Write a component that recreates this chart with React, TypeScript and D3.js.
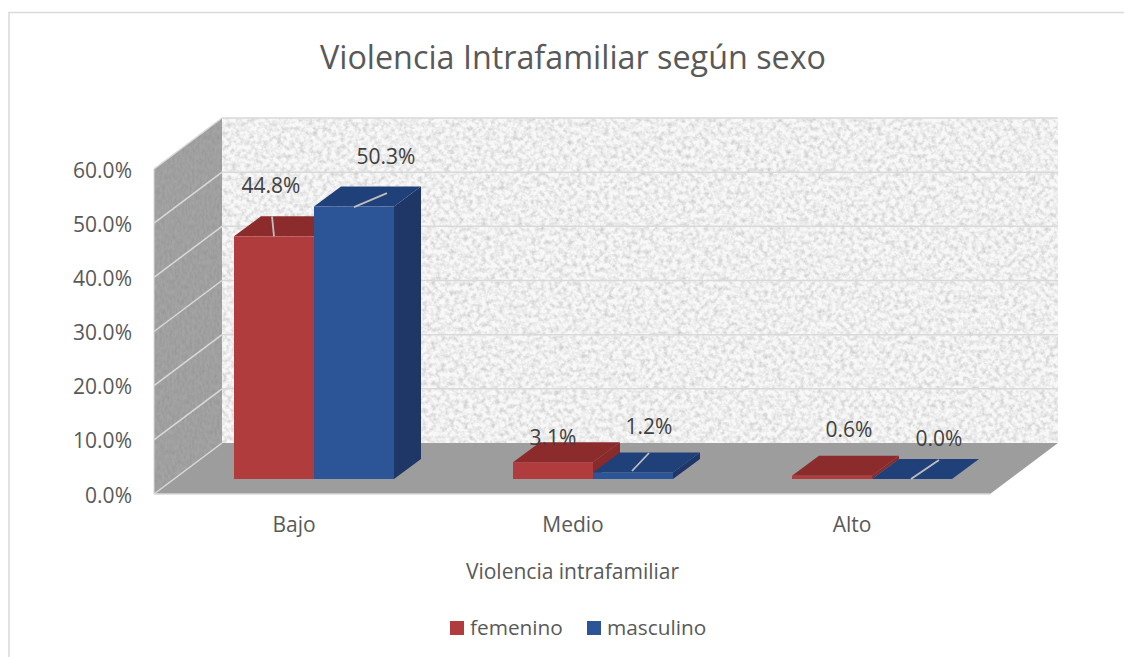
import React from "react";
import * as d3 from "d3";

const categories = ["Bajo", "Medio", "Alto"];
const seriesNames = ["femenino", "masculino"];
const femenino = [44.8, 3.1, 0.6];
const masculino = [50.3, 1.2, 0.0];
const yTicks = [0, 10, 20, 30, 40, 50, 60];
const title = "Violencia Intrafamiliar según sexo";
const xTitle = "Violencia intrafamiliar";

const FONT = "'Open Sans', Lato, sans-serif";
const TEXT = "#595959";
const GRID = "#d9d9d9";
const faces = [
  { front: "#b13c3e", top: "#8b2b2c", side: "#892a2b" },
  { front: "#2c5597", top: "#20407a", side: "#1e3766" },
];

// Plot geometry: front plane, then the depth offsets of the 3D box
const frontLeft = 154;
const frontRight = 990;
const frontBase = 494;
const frontTop = 169;
const depthX = 68;
const depthY = -51;
const barDepthX = 27;
const barDepthY = -20;
const barBase = 479;

const h = d3.scaleLinear().domain([0, 60]).range([0, frontBase - frontTop]);
const xBand = d3.scaleBand<string>().domain(categories).range([94.5, 931.5]).paddingInner(0).paddingOuter(0);
const step = xBand.bandwidth();
const xSeries = d3.scaleBand<string>().domain(seriesNames).range([139.5, 299.5]);

// label dx, label dy, leader x1, y1, x2, y2 relative to each bar's top-left
const labelOffsets = [
  [[37, -43, 38, -20, 40, 0], [72, -43, 40, 0.6, 73, -13.4]],
  [[40, -17, 0, 0, 0, 0], [56, -39, 39, -1.5, 56, -19.5]],
  [[57, -39, 0, 0, 0, 0], [67, -33, 39, 0, 67, -19]],
];

const line = d3.line();
const poly = (pts: [number, number][]) => line(pts) + "Z";

function Bar({ x, w, height, c }: { x: number; w: number; height: number; c: (typeof faces)[number] }) {
  const t = barBase - height;
  return (
    <g>
      <path d={poly([[x + w, barBase], [x + w + barDepthX, barBase + barDepthY], [x + w + barDepthX, t + barDepthY], [x + w, t]])} fill={c.side} />
      <path d={poly([[x, t], [x + barDepthX, t + barDepthY], [x + w + barDepthX, t + barDepthY], [x + w, t]])} fill={c.top} />
      <rect x={x} y={t} width={w} height={height} fill={c.front} />
    </g>
  );
}

export default function App() {
  const backLeft = frontLeft + depthX;
  const backRight = frontRight + depthX;
  const backBase = frontBase + depthY;
  const backTop = frontTop + depthY;
  const w = xSeries.bandwidth();
  const values = [femenino, masculino];
  return (
    <svg width={1124} height={657} style={{ position: "absolute", left: 0, top: 0, display: "block", background: "#fff" }} fontFamily={FONT}>
      <defs>
        <filter id="wallNoise" x="0" y="0" width="100%" height="100%">
          <feTurbulence type="fractalNoise" baseFrequency="0.22" numOctaves={3} seed={7} />
          <feColorMatrix type="matrix" values="0 0 0 0 0.5  0 0 0 0 0.5  0 0 0 0 0.5  1.5 0 0 0 -0.56" />
          <feGaussianBlur stdDeviation={0.6} />
          <feComposite in2="SourceGraphic" operator="atop" />
        </filter>
        <filter id="sideNoise" x="0" y="0" width="100%" height="100%">
          <feTurbulence type="fractalNoise" baseFrequency="0.4 0.2" numOctaves={3} seed={3} />
          <feColorMatrix type="matrix" values="0 0 0 0 0.25  0 0 0 0 0.25  0 0 0 0 0.25  0.9 0 0 0 -0.27" />
          <feGaussianBlur stdDeviation={0.5} />
          <feComposite in2="SourceGraphic" operator="atop" />
        </filter>
      </defs>

      {/* chart frame */}
      <path d="M9 657V12.5H1124" fill="none" stroke={GRID} strokeWidth={1.5} />

      <text x={573} y={69} textAnchor="middle" fontSize={32.3} fill={TEXT}>{title}</text>

      {/* walls */}
      <rect x={backLeft} y={backTop} width={backRight - backLeft} height={backBase - backTop} fill="#f8f8f8" filter="url(#wallNoise)" />
      <path d={poly([[frontLeft, frontTop], [backLeft, backTop], [backLeft, backBase], [frontLeft, frontBase]])} fill="#a4a4a4" filter="url(#sideNoise)" />
      <path d={poly([[frontLeft, frontBase], [frontRight, frontBase], [backRight, backBase], [backLeft, backBase]])} fill="#9d9d9d" />

      {/* gridlines */}
      {yTicks.map((t) => {
        const yF = frontBase - h(t);
        const yB = yF + depthY;
        return (
          <g key={t}>
            {t > 0 && <line x1={backLeft} x2={backRight} y1={yB} y2={yB} stroke={GRID} strokeWidth={1.5} />}
            <line x1={frontLeft} x2={backLeft} y1={yF} y2={yB} stroke={GRID} strokeWidth={1.5} />
            <text x={132} y={yF + 8.5} textAnchor="end" fontSize={21} fill={TEXT}>{t.toFixed(1)}%</text>
          </g>
        );
      })}
      <line x1={frontLeft} x2={frontLeft} y1={frontTop} y2={frontBase} stroke={GRID} strokeWidth={1} />
      <line x1={frontLeft} x2={frontRight} y1={frontBase} y2={frontBase} stroke={GRID} strokeWidth={1.5} />

      {/* bars */}
      {categories.map((cat, ci) => (
        <g key={cat}>
          {seriesNames.map((s, si) => (
            <Bar key={s} x={(xBand(cat) as number) + (xSeries(s) as number)} w={w} height={h(values[si][ci])} c={faces[si]} />
          ))}
        </g>
      ))}

      {/* data labels and leader lines */}
      {categories.map((cat, ci) =>
        seriesNames.map((s, si) => {
          const x0 = (xBand(cat) as number) + (xSeries(s) as number);
          const top = barBase - h(values[si][ci]);
          const [lx, ly, a, b, c, d] = labelOffsets[ci][si];
          return (
            <g key={cat + s}>
              {(a !== 0 || c !== 0) && (
                <line x1={x0 + a} y1={top + b} x2={x0 + c} y2={top + d} stroke="#bfbfbf" strokeWidth={1.8} />
              )}
              <text x={x0 + lx} y={top + ly} textAnchor="middle" fontSize={21} fill="#404040">
                {values[si][ci].toFixed(1)}%
              </text>
            </g>
          );
        })
      )}

      {/* category labels */}
      {categories.map((cat) => (
        <text key={cat} x={(xBand(cat) as number) + step / 2 + 60} y={532} textAnchor="middle" fontSize={21} fill={TEXT}>{cat}</text>
      ))}
      <text x={572.5} y={579} textAnchor="middle" fontSize={21} fill={TEXT}>{xTitle}</text>

      {/* legend */}
      {seriesNames.map((s, i) => {
        const lx = [450, 587][i];
        return (
          <g key={s}>
            <rect x={lx} y={621} width={14} height={14} fill={faces[i].front} />
            <text x={lx + 20} y={635} fontSize={20.8} fill={TEXT}>{s}</text>
          </g>
        );
      })}
    </svg>
  );
}
